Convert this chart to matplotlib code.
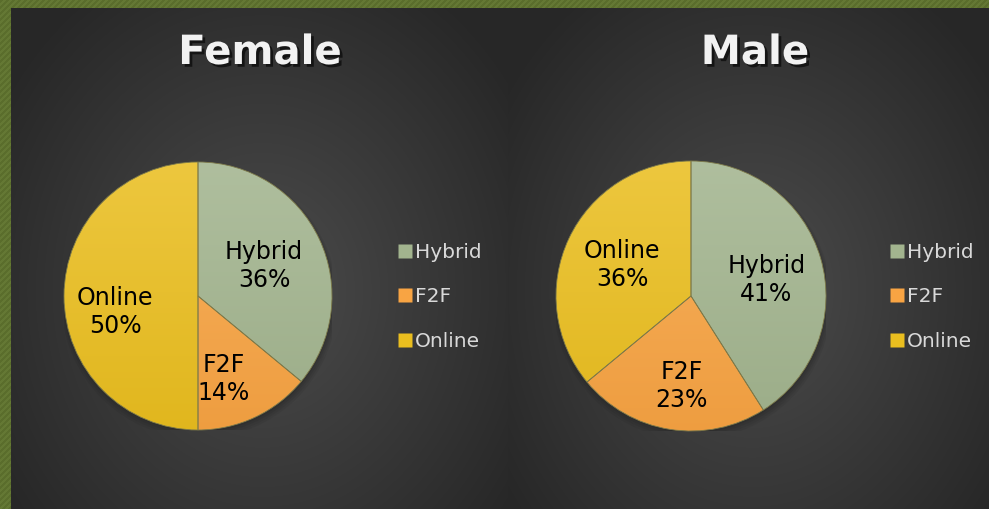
import numpy as np
import matplotlib
matplotlib.use("Agg")
import matplotlib.pyplot as plt
import matplotlib.patheffects as pe
from matplotlib.lines import Line2D
from matplotlib.colors import to_rgb

# data
categories = ['Hybrid', 'F2F', 'Online']
female_pct = [36, 14, 50]
male_pct = [41, 23, 36]
titles = ['Female', 'Male']
colors = ['#A2B48E', '#F8A443', '#EABE1F']

W, H = 989, 509
fig = plt.figure(figsize=(W / 100, H / 100), dpi=100)

# background: green striped frame + two dark panels with radial glow
yy, xx = np.mgrid[0:H, 0:W]
bg = np.zeros((H, W, 3))
stripe = ((xx + yy) // 3) % 2
green1 = np.array([0x5a, 0x6d, 0x2c]) / 255
green2 = np.array([0x64, 0x78, 0x34]) / 255
bg[:] = np.where(stripe[..., None] == 0, green1, green2)

def panel(x0, x1, cx, cy):
    m = (xx >= x0) & (xx < x1) & (yy >= 8)
    d = np.sqrt(((xx - cx) / (x1 - x0) * 1.6) ** 2 + ((yy - cy) / 509 * 1.4) ** 2)
    d = np.clip(d, 0, 1)
    c = 0x4c / 255 * (1 - d) + 0x27 / 255 * d
    bg[m] = np.stack([c, c, c], axis=-1)[m]

panel(11, 508, 262, 290)
panel(508, W, 752, 290)

bax = fig.add_axes([0, 0, 1, 1])
bax.imshow(bg, extent=[0, W, H, 0], aspect='auto', interpolation='bilinear')
bax.set_xlim(0, W)
bax.set_ylim(H, 0)
bax.axis('off')


def lighten(c, f):
    c = np.array(to_rgb(c))
    return c + (1 - c) * f


def darken(c, f):
    return np.array(to_rgb(c)) * (1 - f)


def draw_pie(cx, cy, r, values, dists, nudges, title, tx, legx):
    ax = fig.add_axes([(cx - r) / W, (H - cy - r) / H, 2 * r / W, 2 * r / H])
    # soft shadow
    for i, a in enumerate([0.05, 0.05, 0.06, 0.08]):
        sh = plt.Circle((0.01, -0.035 + i * 0.005), 1.03 - i * 0.012, color='black', alpha=a, lw=0)
        ax.add_patch(sh)
    wedges, _ = ax.pie(values, colors=colors, startangle=90, counterclock=False, radius=1,
                       wedgeprops=dict(edgecolor='#7d7a4a', linewidth=0.6))
    grad_y = np.linspace(0, 1, 200)[:, None]
    for w, c in zip(wedges, colors):
        top = lighten(c, 0.14)
        bot = darken(c, 0.04)
        img = top[None, None, :] * (1 - grad_y[..., None]) + bot[None, None, :] * grad_y[..., None]
        img = np.repeat(img, 2, axis=1)
        im = ax.imshow(img, extent=[-1, 1, -1, 1], aspect='auto', zorder=w.get_zorder() + 0.1)
        im.set_clip_path(w)
        w.set_zorder(w.get_zorder() + 0.2)
        w.set_facecolor('none')
    for w, v, name, dd, nd in zip(wedges, values, categories, dists, nudges):
        ang = np.deg2rad((w.theta1 + w.theta2) / 2 + nd)
        ax.text(dd * np.cos(ang), dd * np.sin(ang), f'{name}\n{v}%', ha='center', va='center',
                fontsize=17, color='black', linespacing=1.2, zorder=5)
    ax.set_xlim(-1, 1)
    ax.set_ylim(-1, 1)
    ax.axis('off')
    fig.text(tx / W, 1 - 53 / H, title, ha='center', va='center', fontsize=29, fontweight='bold',
             color='#F2F2F2',
             path_effects=[pe.withSimplePatchShadow(offset=(2, -2), shadow_rgbFace='black', alpha=0.6)])
    handles = [Line2D([], [], marker='s', linestyle='none', markersize=10, markerfacecolor=c,
                      markeredgecolor='none') for c in colors]
    fig.legend(handles, categories, loc='center left', bbox_to_anchor=(legx / W, 1 - 297 / H),
               frameon=False, fontsize=14.5, labelcolor='#D9D9D9', handlelength=0.75,
               handletextpad=0.15, labelspacing=1.25, borderpad=0)


draw_pie(198, 296, 134, female_pct, [0.54, 0.65, 0.63], [-1, -8, 11], titles[0], 260, 387)
draw_pie(691, 296, 135, male_pct, [0.57, 0.67, 0.56], [-4, 3, 1], titles[1], 755, 879)

fig.savefig('out.png', dpi=100)
